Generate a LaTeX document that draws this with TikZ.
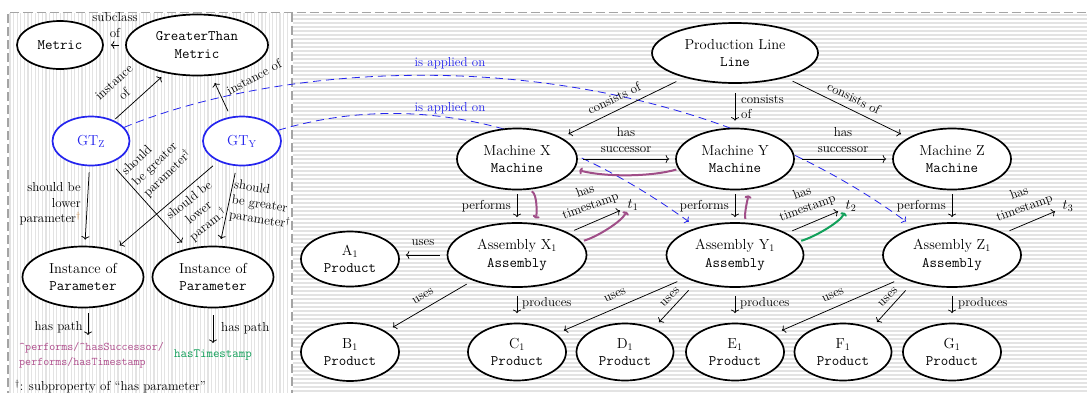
\documentclass[tikz,border=0pt]{standalone}
\usetikzlibrary{shapes.geometric,arrows.meta}
\pgfdeclarelayer{bg}
\pgfdeclarelayer{mid}
\pgfsetlayers{bg,mid,main}
\definecolor{pinkc}{HTML}{B0508E}
\definecolor{purpc}{HTML}{A04E88}
\definecolor{greenc}{HTML}{12A05A}
\definecolor{bluec}{HTML}{2424EE}
\definecolor{stripec}{HTML}{E3E3E3}
\definecolor{borderc}{HTML}{A4A4A4}
\definecolor{daggerc}{HTML}{C07A30}
\begin{document}
\begin{tikzpicture}[x=1pt,y=-1pt,
  ell/.style={ellipse,draw=black,line width=1.7pt,fill=white,inner sep=0pt,align=center,font=\fontsize{14.5}{17.5}\selectfont},
  blueell/.style={ell,draw=bluec,text=bluec},
  lbl/.style={font=\fontsize{13}{15.5}\selectfont,inner sep=0pt},
  tnode/.style={font=\fontsize{14.5}{17.5}\selectfont,inner sep=1pt},
  arr/.style={draw=black,line width=0.75pt,-{To[length=3.5pt,width=8pt]}},
  purparr/.style={draw=purpc,line width=2pt,-{To[length=3pt,width=7pt]}},
  greenarr/.style={draw=greenc,line width=2pt,-{To[length=3pt,width=7pt]}},
  bluearr/.style={draw=bluec,line width=0.8pt,dash pattern=on 8pt off 5pt,-{To[length=3.5pt,width=8pt]}},
  stripe/.style={draw=stripec,line width=1.2pt},
  border/.style={draw=borderc,line width=1.2pt,dash pattern=on 9pt off 4pt}]
\useasboundingbox (0,0) rectangle (1087,392);
% backgrounds
\begin{pgfonlayer}{bg}
\clip (0,0) rectangle (1087,392);
\fill[white] (0,0) rectangle (1087,392);
\foreach \x in {10,13.6,...,290} \draw[stripe] (\x,13) -- (\x,400);
\foreach \y in {15,19,...,395} \draw[stripe] (293,\y) -- (1090,\y);
\draw[border] (8,400) -- (8,12.5) -- (1090,12.5);
\draw[border] (292,12.5) -- (292,400);
\end{pgfonlayer}

% ---------- left panel ----------
\node[ell,minimum width=86,minimum height=48] (metric) at (60,45) {\texttt{Metric}};
\node[ell,minimum width=142,minimum height=61] (gtm) at (197,45) {\texttt{GreaterThan}\\\texttt{Metric}};
\node[blueell,minimum width=77,minimum height=49] (gtz) at (91,141) {GT$_\mathrm{Z}$};
\node[blueell,minimum width=78,minimum height=49] (gty) at (242,141) {GT$_\mathrm{Y}$};
\node[ell,minimum width=121,minimum height=61] (iopa) at (83,277) {Instance of\\\texttt{Parameter}};
\node[ell,minimum width=121,minimum height=61] (iopb) at (213,277) {Instance of\\\texttt{Parameter}};
\node[font=\fontsize{11.7}{15}\selectfont\ttfamily,text=pinkc,align=left,anchor=west,inner sep=0pt] (patha) at (19,355) {\textasciicircum performs/\textasciicircum hasSuccessor/\\performs/hasTimestamp};
\node[font=\fontsize{12.6}{15}\selectfont\ttfamily,text=greenc,inner sep=0pt] (pathb) at (213,355) {hasTimestamp};
\node[lbl,anchor=west] (foot) at (15,387) {$^\dagger$: subproperty of ``has parameter''};

\draw[arr,shorten <=6pt,shorten >=7pt] (gtm) -- (metric);
\node[lbl,align=center] at (115,25) {subclass\\of};
\draw[arr,shorten <=2pt,shorten >=6pt] (gtz) -- (gtm);
\node[lbl,align=center,rotate=42] at (119,88) {instance\\of};
\draw[arr,shorten <=6pt,shorten >=8pt] (gty) -- (gtm);
\node[lbl,rotate=28] at (254,77) {instance of};
\draw[arr,shorten <=6pt,shorten >=6pt] (gtz) -- (iopa);
\node[lbl,align=right,anchor=east] at (81,204) {should be\\lower\\parameter\textcolor{daggerc}{$^\dagger$}};
\draw[arr,shorten <=8pt,shorten >=8pt] (gtz) -- (iopb);
\node[lbl,align=left,rotate=44] at (157,163) {should\\be greater\\parameter$^\dagger$};
\draw[arr,shorten <=7pt,shorten >=7pt] (gty) -- (iopa);
\node[lbl,align=center,rotate=38] at (199,213) {should be\\lower\\param.$^\dagger$};
\draw[arr,shorten <=7pt,shorten >=7pt] (gty) -- (iopb);
\node[lbl,align=left,rotate=-9] at (262,205) {should\\be greater\\parameter$^\dagger$};

\coordinate (pa) at (88,335);
\draw[arr,shorten <=5pt] (iopa.south -| pa) -- (pa);
\node[lbl,anchor=east] at (83,327) {has path};
\coordinate (pb) at (213,343);
\draw[arr,shorten <=7pt] (iopb.south) -- (pb);
\node[lbl,anchor=west] at (221,328) {has path};

% ---------- right panel ----------
\node[ell,minimum width=166,minimum height=60] (pl) at (735,53) {Production Line\\\texttt{Line}};
\node[ell,minimum width=120,minimum height=61] (mx) at (517,159) {Machine X\\\texttt{Machine}};
\node[ell,minimum width=118,minimum height=61] (my) at (735,159) {Machine Y\\\texttt{Machine}};
\node[ell,minimum width=118,minimum height=61] (mz) at (952,159) {Machine Z\\\texttt{Machine}};
\node[ell,minimum width=139,minimum height=64] (ax1) at (517,255) {Assembly X$_1$\\\texttt{Assembly}};
\node[ell,minimum width=137,minimum height=64] (ay1) at (735,255) {Assembly Y$_1$\\\texttt{Assembly}};
\node[ell,minimum width=138,minimum height=64] (az1) at (952,255) {Assembly Z$_1$\\\texttt{Assembly}};
\node[ell,minimum width=98,minimum height=55] (a1) at (350,259) {A$_1$\\\texttt{Product}};
\node[ell,minimum width=98,minimum height=58] (b1) at (350,352) {B$_1$\\\texttt{Product}};
\node[ell,minimum width=98,minimum height=57] (c1) at (517,352) {C$_1$\\\texttt{Product}};
\node[ell,minimum width=97,minimum height=57] (d1) at (625,352) {D$_1$\\\texttt{Product}};
\node[ell,minimum width=98,minimum height=57] (e1) at (735,352) {E$_1$\\\texttt{Product}};
\node[ell,minimum width=97,minimum height=57] (f1) at (843,352) {F$_1$\\\texttt{Product}};
\node[ell,minimum width=98,minimum height=57] (g1) at (952,352) {G$_1$\\\texttt{Product}};
\node[tnode] (t1) at (633,205) {$t_1$};
\node[tnode] (t2) at (851,206) {$t_2$};
\node[tnode] (t3) at (1068,206) {$t_3$};

% blue "is applied on" curves (behind nodes)
\begin{pgfonlayer}{mid}
\draw[bluearr,shorten >=10pt] (gtz) .. controls (300,55) and (650,35) .. (az1);
\draw[bluearr,shorten >=10pt] (gty) .. controls (380,100) and (520,100) .. (ay1);
\end{pgfonlayer}
\node[lbl,text=bluec] at (450,63) {is applied on};
\node[lbl,text=bluec] at (450,108) {is applied on};

% consists of
\draw[arr,shorten <=9pt,shorten >=8pt] (pl) -- (mx);
\node[lbl,rotate=26] at (614,98) {consists of};
\draw[arr,shorten <=9pt,shorten >=7pt] (pl) -- (my);
\node[lbl,align=left,anchor=west] at (741,107) {consists\\of};
\draw[arr,shorten <=8pt,shorten >=8pt] (pl) -- (mz);
\node[lbl,rotate=-26] at (854,98) {consists of};

% has successor
\draw[arr,shorten <=5pt,shorten >=6pt] (mx) -- (my);
\node[lbl,align=center] at (626,140) {has\\successor};
\draw[arr,shorten <=7pt,shorten >=6pt] (my) -- (mz);
\node[lbl,align=center] at (843,140) {has\\successor};

% performs
\draw[arr,shorten <=4pt,shorten >=5pt] (mx) -- (ax1);
\node[lbl,anchor=east] at (511,206) {performs};
\draw[arr,shorten <=4pt,shorten >=5pt] (my) -- (ay1);
\node[lbl,anchor=east] at (729,206) {performs};
\draw[arr,shorten <=4pt,shorten >=5pt] (mz) -- (az1);
\node[lbl,anchor=east] at (946,206) {performs};

% has timestamp
\draw[arr,shorten <=6pt,shorten >=7pt] (ax1) -- (t1);
\node[lbl,align=center,rotate=20] at (588,199) {has\\timestamp};
\draw[arr,shorten <=6pt,shorten >=7pt] (ay1) -- (t2);
\node[lbl,align=center,rotate=20] at (805,201) {has\\timestamp};
\draw[arr,shorten <=6pt,shorten >=7pt] (az1) -- (t3);
\node[lbl,align=center,rotate=20] at (1022,201) {has\\timestamp};

% uses / produces
\draw[arr,shorten <=7pt,shorten >=6pt] (ax1.west) -- (ax1.west -| a1.east);
\node[lbl] at (423,243) {uses};
\draw[arr,shorten <=7pt,shorten >=8pt] (ax1.210) -- (b1.30);
\node[lbl,rotate=30] at (423,296) {uses};
\draw[arr,shorten <=8pt,shorten >=9.5pt] (ax1) -- (c1);
\node[lbl,anchor=west] at (522,303) {produces};
\draw[arr,shorten <=9pt,shorten >=8.5pt] (ay1.205) -- (c1.25);
\node[lbl,rotate=24] at (615,295) {uses};
\draw[arr,shorten <=11pt,shorten >=8pt] (ay1.215) -- (d1.40);
\node[lbl,rotate=45] at (670,297) {uses};
\draw[arr,shorten <=8pt,shorten >=9.5pt] (ay1) -- (e1);
\node[lbl,anchor=west] at (740,303) {produces};
\draw[arr,shorten <=9pt,shorten >=8.5pt] (az1.205) -- (e1.25);
\node[lbl,rotate=24] at (833,295) {uses};
\draw[arr,shorten <=11pt,shorten >=8pt] (az1.215) -- (f1.40);
\node[lbl,rotate=45] at (888,297) {uses};
\draw[arr,shorten <=8pt,shorten >=9.5pt] (az1) -- (g1);
\node[lbl,anchor=west] at (958,303) {produces};

% coloured path arrows
\draw[purparr,shorten <=2pt,shorten >=5pt] (my.190) .. controls (650,177) and (605,177) .. (mx.-10);
\draw[purparr,shorten <=3pt,shorten >=5pt] (mx.-68) .. controls +(8,5) and +(3,-9) .. (ax1.62);
\draw[purparr,shorten <=3pt] (ax1.12) .. controls +(15,-4) and +(-5,10) .. (t1.south west);
\draw[purparr,shorten <=4pt,shorten >=6pt] (ay1.70) .. controls +(-3,-8) and +(-1,7) .. (my.-65);
\draw[greenarr,shorten <=3pt] (ay1.12) .. controls +(15,-4) and +(-5,10) .. (t2.south west);
\end{tikzpicture}
\end{document}
